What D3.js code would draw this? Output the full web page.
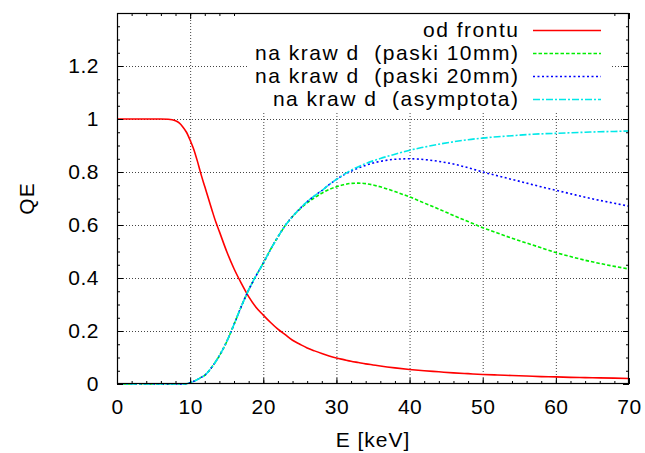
<!DOCTYPE html>
<html>
<head>
<meta charset="utf-8">
<script src="https://cdn.jsdelivr.net/npm/d3@7"></script>
<style>
  html, body { margin: 0; padding: 0; background: #fff; }
  svg { display: block; font-family: "Liberation Sans", Arial, Helvetica, sans-serif; }
  text { white-space: pre; }
</style>
</head>
<body>
<svg id="chart" width="645" height="453"></svg>
<script>
// Photon energy grid [keV] shared by all curves
const energy = [0, 2, 4, 6, 7, 8, 8.5, 9, 9.5, 10, 10.5, 11, 11.5, 12, 12.5, 13, 13.5, 14,
  15, 16, 17, 18, 19, 20, 21, 22, 23, 24, 25, 26, 27, 28, 29, 30,
  31, 32, 33, 34, 35, 36, 38, 40, 42, 44, 46, 48, 50, 52, 54, 56, 58, 60, 62, 64, 66, 68, 70];

// Front illumination
const qeFront = [1, 1, 1, 1, 0.999, 0.993, 0.985, 0.97, 0.95, 0.92, 0.885, 0.84, 0.79, 0.745, 0.70, 0.655, 0.612, 0.575,
  0.50, 0.435, 0.38, 0.33, 0.29, 0.26, 0.232, 0.207, 0.186, 0.165, 0.15, 0.136, 0.125, 0.115, 0.106, 0.098,
  0.092, 0.086, 0.081, 0.076, 0.072, 0.068, 0.061, 0.055, 0.05, 0.046, 0.042, 0.039, 0.036, 0.034, 0.032, 0.030, 0.028, 0.027, 0.025, 0.024, 0.023, 0.022, 0.021];

// Edge illumination, 10 mm strips
const qeEdge10 = [0, 0, 0, 0, 0, 0, 0, 0, 0.001, 0.005, 0.01, 0.017, 0.025, 0.033, 0.047, 0.065, 0.085, 0.107,
  0.16, 0.225, 0.293, 0.355, 0.408, 0.456, 0.508, 0.555, 0.598, 0.632, 0.66, 0.684, 0.703, 0.72, 0.734, 0.744,
  0.752, 0.757, 0.758, 0.756, 0.751, 0.744, 0.726, 0.706, 0.683, 0.66, 0.636, 0.613, 0.59, 0.57, 0.55, 0.532, 0.514, 0.496, 0.481, 0.467, 0.455, 0.444, 0.434];

// Edge illumination, 20 mm strips
const qeEdge20 = [0, 0, 0, 0, 0, 0, 0, 0, 0.001, 0.005, 0.01, 0.017, 0.025, 0.033, 0.047, 0.065, 0.085, 0.107,
  0.16, 0.225, 0.293, 0.355, 0.408, 0.456, 0.508, 0.555, 0.598, 0.632, 0.662, 0.688, 0.71, 0.73, 0.752, 0.772,
  0.789, 0.803, 0.815, 0.825, 0.834, 0.840, 0.848, 0.850, 0.847, 0.840, 0.830, 0.816, 0.80, 0.786, 0.772, 0.758, 0.744, 0.731, 0.718, 0.705, 0.693, 0.682, 0.671];

// Edge illumination, asymptotic limit
const qeEdgeAsym = [0, 0, 0, 0, 0, 0, 0, 0, 0.001, 0.005, 0.01, 0.017, 0.025, 0.033, 0.047, 0.065, 0.085, 0.107,
  0.16, 0.225, 0.293, 0.355, 0.408, 0.456, 0.508, 0.555, 0.598, 0.632, 0.662, 0.688, 0.71, 0.73, 0.752, 0.772,
  0.79, 0.807, 0.82, 0.832, 0.842, 0.851, 0.867, 0.882, 0.894, 0.905, 0.914, 0.922, 0.928, 0.933, 0.937, 0.941, 0.944, 0.946, 0.948, 0.95, 0.952, 0.953, 0.955];

const seriesNames = ["od frontu", "na kraw d  (paski 10mm)", "na kraw d  (paski 20mm)", "na kraw d  (asymptota)"];
const seriesValues = [qeFront, qeEdge10, qeEdge20, qeEdgeAsym];
const seriesColors = ["#ff0000", "#00ee00", "#0000ff", "#00e8e8"];
const seriesDashes = [null, "3.5,2", "2,2.5", "7,2,2,2"];

const xTicks = [0, 10, 20, 30, 40, 50, 60, 70];
const yTicks = [0, 0.2, 0.4, 0.6, 0.8, 1, 1.2];
const xLabel = "E [keV]";
const yLabel = "QE";

const margin = { left: 117, right: 16, top: 13, bottom: 69 };
const W = 645, H = 453;
const svg = d3.select("#chart");
const fs = 21;

const x = d3.scaleLinear().domain([0, 70]).range([margin.left, W - margin.right]);
const y = d3.scaleLinear().domain([0, 1.4]).range([H - margin.bottom, margin.top]);
const x0 = x.range()[0], x1 = x.range()[1], y0 = y.range()[0], y1 = y.range()[1];

// dotted grid at interior major ticks
const grid = svg.append("g").attr("stroke", "#444").attr("stroke-width", 1).attr("stroke-dasharray", "1,2");
grid.selectAll("line.gx").data(xTicks.filter(v => v > 0 && v < 70)).join("line")
  .attr("x1", d => x(d) + 0.5).attr("x2", d => x(d) + 0.5).attr("y1", y0).attr("y2", y1);
grid.selectAll("line.gy").data(yTicks.filter(v => v > 0)).join("line")
  .attr("x1", x0).attr("x2", x1).attr("y1", d => Math.round(y(d)) + 0.5).attr("y2", d => Math.round(y(d)) + 0.5);

// curves
const line = d3.line().x((d, i) => x(energy[i])).y(d => y(d)).curve(d3.curveMonotoneX);
seriesValues.forEach((vals, i) => {
  svg.append("path").datum(vals)
    .attr("fill", "none")
    .attr("stroke", seriesColors[i])
    .attr("stroke-width", 1.6)
    .attr("stroke-dasharray", seriesDashes[i])
    .attr("d", line);
});

// axes with inward ticks mirrored on all four sides
function styleAxis(g) {
  g.select(".domain").remove();
  g.selectAll(".tick line").attr("stroke", "#000").attr("stroke-width", 1);
  g.selectAll("text").attr("font-size", fs).attr("fill", "#000")
    .attr("letter-spacing", 0.5).attr("font-family", "Liberation Sans, Arial, sans-serif");
}
const xMinor = d3.range(0, 71, 2);
const yMinor = d3.range(0, 1.401, 0.05);

svg.append("g").attr("transform", `translate(0,${y0})`)
  .call(d3.axisBottom(x).tickValues(xMinor).tickSize(-3).tickFormat("")).call(styleAxis);
svg.append("g").attr("transform", `translate(0,${y0})`)
  .call(d3.axisBottom(x).tickValues(xTicks).tickSize(-6).tickPadding(15.5).tickFormat(d3.format("d"))).call(styleAxis);
svg.append("g").attr("transform", `translate(0,${y1})`)
  .call(d3.axisTop(x).tickValues(xMinor).tickSize(-3).tickFormat("")).call(styleAxis);
svg.append("g").attr("transform", `translate(0,${y1})`)
  .call(d3.axisTop(x).tickValues(xTicks).tickSize(-6).tickFormat("")).call(styleAxis);

svg.append("g").attr("transform", `translate(${x0},0)`)
  .call(d3.axisLeft(y).tickValues(yMinor).tickSize(-3).tickFormat("")).call(styleAxis);
svg.append("g").attr("transform", `translate(${x0},0)`)
  .call(d3.axisLeft(y).tickValues(yTicks).tickSize(-6).tickPadding(18).tickFormat(d => d3.format("~g")(d))).call(styleAxis);
svg.append("g").attr("transform", `translate(${x1},0)`)
  .call(d3.axisRight(y).tickValues(yMinor).tickSize(-3).tickFormat("")).call(styleAxis);
svg.append("g").attr("transform", `translate(${x1},0)`)
  .call(d3.axisRight(y).tickValues(yTicks).tickSize(-6).tickFormat("")).call(styleAxis);

// key box (opaque, hides the grid behind it)
const key = svg.append("g");
key.append("rect").attr("x", 248).attr("y", y1 + 1).attr("width", 612 - 248).attr("height", 112 - y1 - 1).attr("fill", "#fff");
seriesNames.forEach((name, i) => {
  const cy = 30 + i * 23;
  key.append("text").attr("x", 519.5).attr("y", cy).attr("dy", "0.35em")
    .attr("text-anchor", "end").attr("font-size", fs).attr("letter-spacing", 1.5)
    .attr("fill", "#000").text(name);
  key.append("line").attr("x1", 533).attr("x2", 601).attr("y1", cy + 0.5).attr("y2", cy + 0.5)
    .attr("stroke", seriesColors[i]).attr("stroke-width", 1.6).attr("stroke-dasharray", seriesDashes[i]);
});

// frame
svg.append("rect").attr("x", x0 + 0.5).attr("y", y1 + 0.5).attr("width", x1 - x0 - 1).attr("height", y0 - y1 - 1)
  .attr("fill", "none").attr("stroke", "#000").attr("stroke-width", 1.2);

// axis titles
svg.append("text").attr("x", (x0 + x1) / 2).attr("y", 447).attr("text-anchor", "middle")
  .attr("font-size", fs).attr("letter-spacing", 1).attr("fill", "#000").text(xLabel);
svg.append("text").attr("transform", `translate(34,${(y0 + y1) / 2}) rotate(-90)`).attr("text-anchor", "middle")
  .attr("font-size", fs).attr("letter-spacing", 1).attr("fill", "#000").text(yLabel);
</script>
</body>
</html>
